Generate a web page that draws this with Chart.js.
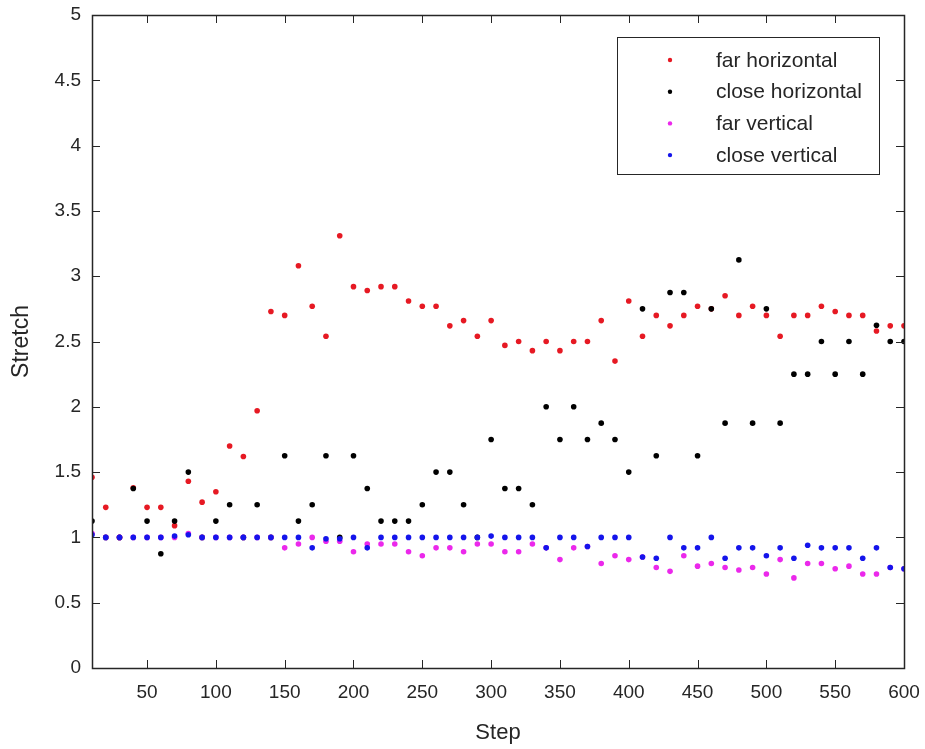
<!DOCTYPE html>
<html>
<head>
<meta charset="utf-8">
<title>Stretch</title>
<script src="https://cdn.jsdelivr.net/npm/chart.js@4.4.1/dist/chart.umd.min.js"></script>
<style>
  html, body { margin: 0; padding: 0; background: #fff; }
  #myChart { display: block; }
</style>
</head>
<body>
<canvas id="myChart" width="925" height="749"></canvas>
<script>
var steps = [10, 20, 30, 40, 50, 60, 70, 80, 90, 100,
	110, 120, 130, 140, 150, 160, 170, 180, 190, 200,
	210, 220, 230, 240, 250, 260, 270, 280, 290, 300,
	310, 320, 330, 340, 350, 360, 370, 380, 390, 400,
	410, 420, 430, 440, 450, 460, 470, 480, 490, 500,
	510, 520, 530, 540, 550, 560, 570, 580, 590, 600];

var farHorizontal = [1.46, 1.23, 1.00, 1.38, 1.23, 1.23, 1.09, 1.43, 1.27, 1.35,
	1.70, 1.62, 1.97, 2.73, 2.70, 3.08, 2.77, 2.54, 3.31, 2.92,
	2.89, 2.92, 2.92, 2.81, 2.77, 2.77, 2.62, 2.66, 2.54, 2.66,
	2.47, 2.50, 2.43, 2.50, 2.43, 2.50, 2.50, 2.66, 2.35, 2.81,
	2.54, 2.70, 2.62, 2.70, 2.77, 2.75, 2.85, 2.70, 2.77, 2.70,
	2.54, 2.70, 2.70, 2.77, 2.73, 2.70, 2.70, 2.58, 2.62, 2.62];

var closeHorizontal = [1.125, 1.0, 1.0, 1.375, 1.125, 0.875, 1.125, 1.5, 1.0, 1.125,
	1.25, 1.0, 1.25, 1.0, 1.625, 1.125, 1.25, 1.625, 1.0, 1.625,
	1.375, 1.125, 1.125, 1.125, 1.25, 1.5, 1.5, 1.25, 1.0, 1.75,
	1.375, 1.375, 1.25, 2.0, 1.75, 2.0, 1.75, 1.875, 1.75, 1.5,
	2.75, 1.625, 2.875, 2.875, 1.625, 2.75, 1.875, 3.125, 1.875, 2.75,
	1.875, 2.25, 2.25, 2.5, 2.25, 2.5, 2.25, 2.625, 2.5, 2.5];

var farVertical = [1.03, 1.0, 1.0, 1.0, 1.0, 1.0, 1.0, 1.03, 1.0, 1.0,
	1.0, 1.0, 1.0, 1.0, 0.92, 0.95, 1.0, 0.97, 0.97, 0.89,
	0.95, 0.95, 0.95, 0.89, 0.86, 0.92, 0.92, 0.89, 0.95, 0.95,
	0.89, 0.89, 0.95, 0.92, 0.83, 0.92, 0.93, 0.80, 0.86, 0.83,
	0.85, 0.77, 0.74, 0.86, 0.78, 0.80, 0.77, 0.75, 0.77, 0.72,
	0.83, 0.69, 0.80, 0.80, 0.76, 0.78, 0.72, 0.72, 0.77, 0.76];

var closeVertical = [1.02, 1.0, 1.0, 1.0, 1.0, 1.0, 1.01, 1.02, 1.0, 1.0,
	1.0, 1.0, 1.0, 1.0, 1.0, 1.0, 0.92, 0.99, 0.99, 1.0,
	0.92, 1.0, 1.0, 1.0, 1.0, 1.0, 1.0, 1.0, 1.0, 1.01,
	1.0, 1.0, 1.0, 0.92, 1.0, 1.0, 0.93, 1.0, 1.0, 1.0,
	0.85, 0.84, 1.0, 0.92, 0.92, 1.0, 0.84, 0.92, 0.92, 0.86,
	0.92, 0.84, 0.94, 0.92, 0.92, 0.92, 0.84, 0.92, 0.77, 0.76];

var xTicks = [50, 100, 150, 200, 250, 300, 350, 400, 450, 500, 550, 600];
var yTicks = [0, 0.5, 1, 1.5, 2, 2.5, 3, 3.5, 4, 4.5, 5];

var axisColor = '#262626';
var fontFamily = '"Liberation Sans", Arial, Helvetica, sans-serif';

function toPoints(values) {
	return steps.map(function (s, i) { return { x: s, y: values[i] }; });
}

// MATLAB-style box with inward ticks on all four sides
var boxPlugin = {
	id: 'boxAxes',
	afterDatasetsDraw: function (chart) {
		var ctx = chart.ctx, a = chart.chartArea;
		var xs = chart.scales.x, ys = chart.scales.y;
		var len = 8;
		ctx.save();
		ctx.strokeStyle = axisColor;
		ctx.lineWidth = 1;
		ctx.beginPath();
		xTicks.forEach(function (v) {
			var px = Math.round(xs.getPixelForValue(v)) + 0.5;
			ctx.moveTo(px, a.bottom); ctx.lineTo(px, a.bottom - len);
			ctx.moveTo(px, a.top); ctx.lineTo(px, a.top + len);
		});
		yTicks.forEach(function (v) {
			var py = Math.round(ys.getPixelForValue(v)) + 0.5;
			ctx.moveTo(a.left, py); ctx.lineTo(a.left + len, py);
			ctx.moveTo(a.right, py); ctx.lineTo(a.right - len, py);
		});
		ctx.stroke();
		ctx.lineWidth = 1.5;
		ctx.strokeRect(Math.round(a.left) + 0.5, Math.round(a.top) + 0.5,
			Math.round(a.right - a.left), Math.round(a.bottom - a.top));
		ctx.restore();
	}
};

// legend box in the upper right corner of the plot
var legendPlugin = {
	id: 'insideLegend',
	afterDraw: function (chart) {
		var ctx = chart.ctx;
		var x = 617, y = 37, w = 262, h = 137, row = 31.7;
		ctx.save();
		ctx.fillStyle = '#ffffff';
		ctx.fillRect(x, y, w, h);
		ctx.strokeStyle = axisColor;
		ctx.lineWidth = 1;
		ctx.strokeRect(x + 0.5, y + 0.5, w, h);
		ctx.font = '21px ' + fontFamily;
		ctx.textBaseline = 'middle';
		chart.data.datasets.forEach(function (ds, i) {
			var cy = y + 23 + i * row;
			ctx.fillStyle = ds.backgroundColor;
			ctx.beginPath();
			ctx.arc(x + 53, cy, 2.2, 0, Math.PI * 2);
			ctx.fill();
			ctx.fillStyle = axisColor;
			ctx.fillText(ds.label, x + 99, cy + 1);
		});
		ctx.restore();
	}
};

var ctx = document.getElementById('myChart').getContext('2d');
var myChart = new Chart(ctx, {
	type: 'scatter',
	data: {
		datasets: [{
			label: 'far horizontal',
			backgroundColor: 'rgb(230,25,35)',
			data: toPoints(farHorizontal),
			order: 4
		}, {
			label: 'close horizontal',
			backgroundColor: 'rgb(0,0,0)',
			data: toPoints(closeHorizontal),
			order: 3
		}, {
			label: 'far vertical',
			backgroundColor: 'rgb(235,40,235)',
			data: toPoints(farVertical),
			order: 2
		}, {
			label: 'close vertical',
			backgroundColor: 'rgb(20,20,235)',
			data: toPoints(closeVertical),
			order: 1
		}]
	},
	options: {
		responsive: false,
		animation: false,
		devicePixelRatio: 1,
		events: [],
		elements: { point: { radius: 2.8, borderWidth: 0 } },
		layout: { padding: { left: 0, right: 21, top: 15, bottom: 0 } },
		plugins: {
			legend: { display: false },
			tooltip: { enabled: false }
		},
		scales: {
			x: {
				type: 'linear',
				min: 10,
				max: 600,
				grid: { display: false, drawTicks: false },
				border: { display: false },
				afterBuildTicks: function (scale) {
					scale.ticks = xTicks.map(function (v) { return { value: v }; });
				},
				afterFit: function (scale) {
					scale.height = 81;
					scale.paddingLeft = 0;
					scale.paddingRight = 0;
				},
				ticks: {
					padding: 13,
					maxRotation: 0,
					autoSkip: false,
					color: axisColor,
					font: { family: fontFamily, size: 19 },
					callback: function (v) { return String(v); }
				},
				title: {
					display: true,
					text: 'Step',
					color: axisColor,
					padding: 3,
					font: { family: fontFamily, size: 22 }
				}
			},
			y: {
				min: 0,
				max: 5,
				grid: { display: false, drawTicks: false },
				border: { display: false },
				afterBuildTicks: function (scale) {
					scale.ticks = yTicks.map(function (v) { return { value: v }; });
				},
				afterFit: function (scale) {
					scale.width = 92;
					scale.paddingTop = 0;
					scale.paddingBottom = 0;
				},
				ticks: {
					padding: 11,
					autoSkip: false,
					color: axisColor,
					font: { family: fontFamily, size: 19 },
					callback: function (v) { return String(v); }
				},
				title: {
					display: true,
					text: 'Stretch',
					color: axisColor,
					padding: 8,
					font: { family: fontFamily, size: 23 }
				}
			}
		}
	},
	plugins: [boxPlugin, legendPlugin]
});
</script>
</body>
</html>
